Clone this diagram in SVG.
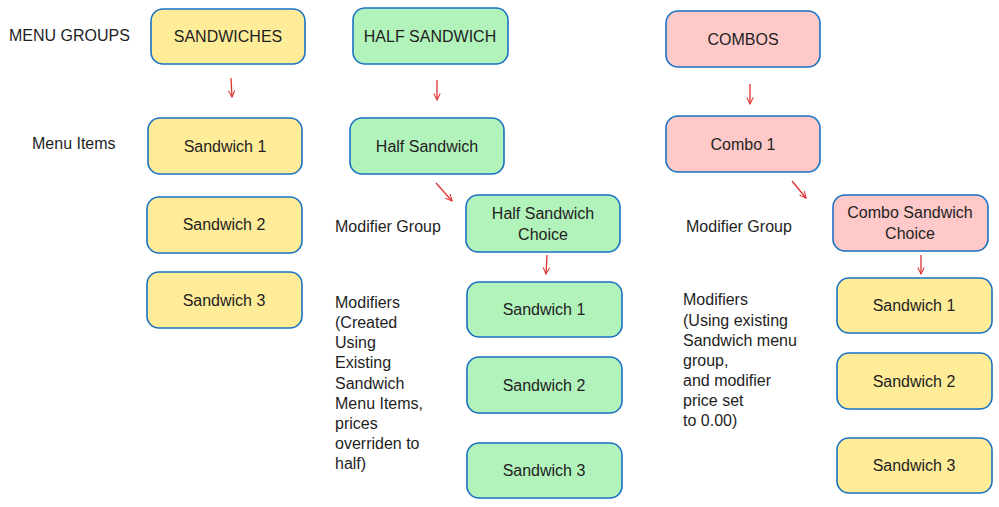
<svg xmlns="http://www.w3.org/2000/svg" width="999" height="507" viewBox="0 0 999 507">
<style>
  .box { stroke: #1971c2; stroke-width: 1.6; }
  .y { fill: #ffec99; }
  .g { fill: #b2f2bb; }
  .p { fill: #ffc9c9; }
  text { font-family: "Liberation Sans", Arial, sans-serif; font-size: 16px; fill: #1e1e1e; }
  .c { text-anchor: middle; dominant-baseline: central; }
  .arrow { stroke: #e03131; stroke-width: 1.3; fill: none; marker-end: url(#ah); }
</style>
<defs>
  <marker id="ah" viewBox="0 0 10 10" refX="9" refY="5" markerWidth="8" markerHeight="8" orient="auto" markerUnits="userSpaceOnUse">
    <path d="M1,1 L9,5 L1,9" fill="none" stroke="#e03131" stroke-width="1.3"/>
  </marker>
</defs>
<rect width="999" height="507" fill="#ffffff"/>

<g id="labels">
  <text x="9" y="41">MENU GROUPS</text>
  <text x="32" y="149">Menu Items</text>
  <text x="335" y="232">Modifier Group</text>
  <text x="686" y="232">Modifier Group</text>
  <text x="335" y="308">
    <tspan x="335" y="308">Modifiers</tspan>
    <tspan x="335" y="328">(Created</tspan>
    <tspan x="335" y="348">Using</tspan>
    <tspan x="335" y="368">Existing</tspan>
    <tspan x="335" y="389">Sandwich</tspan>
    <tspan x="335" y="409">Menu Items,</tspan>
    <tspan x="335" y="429">prices</tspan>
    <tspan x="335" y="449">overriden to</tspan>
    <tspan x="335" y="469">half)</tspan>
  </text>
  <text x="683" y="305">
    <tspan x="683" y="305">Modifiers</tspan>
    <tspan x="683" y="326">(Using existing</tspan>
    <tspan x="683" y="346">Sandwich menu</tspan>
    <tspan x="683" y="366">group,</tspan>
    <tspan x="683" y="386">and modifier</tspan>
    <tspan x="683" y="406">price set</tspan>
    <tspan x="683" y="426">to 0.00)</tspan>
  </text>
</g>

<g id="sandwiches"><rect class="box y" x="151" y="9" width="154" height="55" rx="12"/><text class="c" x="228" y="36">SANDWICHES</text></g>
<g id="half-sandwich-group"><rect class="box g" x="353" y="8" width="155" height="56" rx="12"/><text class="c" x="430" y="36">HALF SANDWICH</text></g>
<g id="combos"><rect class="box p" x="666" y="11" width="154" height="56" rx="12"/><text class="c" x="743" y="39">COMBOS</text></g>

<g id="y-sandwich-1"><rect class="box y" x="148" y="118" width="154" height="56" rx="12"/><text class="c" x="225" y="146">Sandwich 1</text></g>
<g id="y-sandwich-2"><rect class="box y" x="147" y="197" width="155" height="56" rx="12"/><text class="c" x="224" y="224">Sandwich 2</text></g>
<g id="y-sandwich-3"><rect class="box y" x="147" y="272" width="155" height="56" rx="12"/><text class="c" x="224" y="300">Sandwich 3</text></g>

<g id="half-sandwich"><rect class="box g" x="350" y="118" width="154" height="56" rx="12"/><text class="c" x="427" y="146">Half Sandwich</text></g>
<g id="half-sandwich-choice"><rect class="box g" x="466" y="195" width="154" height="57" rx="12"/><text class="c" x="543" y="213">Half Sandwich</text><text class="c" x="543" y="234">Choice</text></g>
<g id="g-sandwich-1"><rect class="box g" x="467" y="282" width="155" height="55" rx="12"/><text class="c" x="544" y="309">Sandwich 1</text></g>
<g id="g-sandwich-2"><rect class="box g" x="467" y="357" width="155" height="56" rx="12"/><text class="c" x="544" y="385">Sandwich 2</text></g>
<g id="g-sandwich-3"><rect class="box g" x="467" y="443" width="155" height="55" rx="12"/><text class="c" x="544" y="470">Sandwich 3</text></g>

<g id="combo-1"><rect class="box p" x="666" y="116" width="154" height="56" rx="12"/><text class="c" x="743" y="144">Combo 1</text></g>
<g id="combo-sandwich-choice"><rect class="box p" x="833" y="195" width="155" height="56" rx="12"/><text class="c" x="910" y="212">Combo Sandwich</text><text class="c" x="910" y="233">Choice</text></g>
<g id="r-sandwich-1"><rect class="box y" x="837" y="278" width="155" height="55" rx="12"/><text class="c" x="914" y="305">Sandwich 1</text></g>
<g id="r-sandwich-2"><rect class="box y" x="837" y="353" width="155" height="56" rx="12"/><text class="c" x="914" y="381">Sandwich 2</text></g>
<g id="r-sandwich-3"><rect class="box y" x="837" y="438" width="155" height="55" rx="12"/><text class="c" x="914" y="465">Sandwich 3</text></g>

<g id="connectors">
  <path class="arrow" d="M231,78 L232,97"/>
  <path class="arrow" d="M437,80 L437,100"/>
  <path class="arrow" d="M750,84 L750,104"/>
  <path class="arrow" d="M436,183 L452,201"/>
  <path class="arrow" d="M547,255 L546,274"/>
  <path class="arrow" d="M792,181 L806,198"/>
  <path class="arrow" d="M921,255 L921,274"/>
</g>
</svg>
